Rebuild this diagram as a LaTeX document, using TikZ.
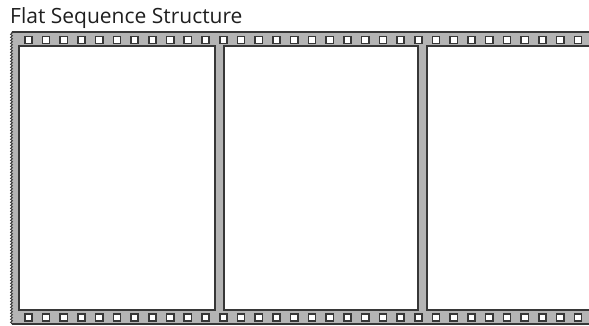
\documentclass[tikz,border=0pt]{standalone}
\usepackage{fontspec}
\setmainfont{Open Sans}
\usepackage{tikz}
\usetikzlibrary{positioning, decorations, decorations.pathmorphing}
\definecolor{filmGray}{RGB}{180,180,180}
\definecolor{edgeDark}{RGB}{55,55,55}
\tikzset{
	caption/.style={
		font=\fontsize{21}{23}\selectfont,
		text=black!88,
		inner sep=0pt,
		anchor=base west
	},
	film/.style={
		fill=filmGray,
		draw=none
	},
	filmEdge/.style={
		draw=edgeDark,
		line width=1.5pt
	},
	tornEdge/.style={
		draw=edgeDark,
		line width=1pt,
		decorate,
		decoration={zigzag,
		segment length=3pt,
		amplitude=0.8pt}
	},
	frame/.style={
		draw=edgeDark,
		line width=2pt,
		fill=white,
		inner sep=0pt,
		outer sep=0pt,
		minimum height=264pt
	},
	sprocket/.style={
		draw=edgeDark,
		line width=1.6pt,
		fill=white,
		inner sep=0pt,
		outer sep=0pt,
		minimum size=7.2pt
	},
}

\begin{document}
\begin{tikzpicture}[x=1pt, y=-1pt]
	\clip (0,0) rectangle (589,325);
	% title
	\node [caption] (title) at (10,23) {Flat Sequence Structure};

	% film strip
	\fill [film] (12,32) rectangle (600,324);
	\draw [filmEdge] (12,32) -- (600,32);
	\draw [filmEdge] (12,324) -- (600,324);
	\draw [tornEdge] (11.5,32) -- (11.5,324);

	% frames
	\node [frame, minimum width=196pt] (frameA) at (117,178) {};
	\node [frame, minimum width=194pt] (frameB) at (321,178) {};
	\node [frame, minimum width=196pt] (frameC) at (525,178) {};

	% sprocket holes
	\foreach \i in {0,...,32} {
		\node [sprocket] (topHole\i) at (28.3+17.73*\i,40) {};
		\node [sprocket] (bottomHole\i) at (28.3+17.73*\i,317.5) {};
	}
\end{tikzpicture}
\end{document}
